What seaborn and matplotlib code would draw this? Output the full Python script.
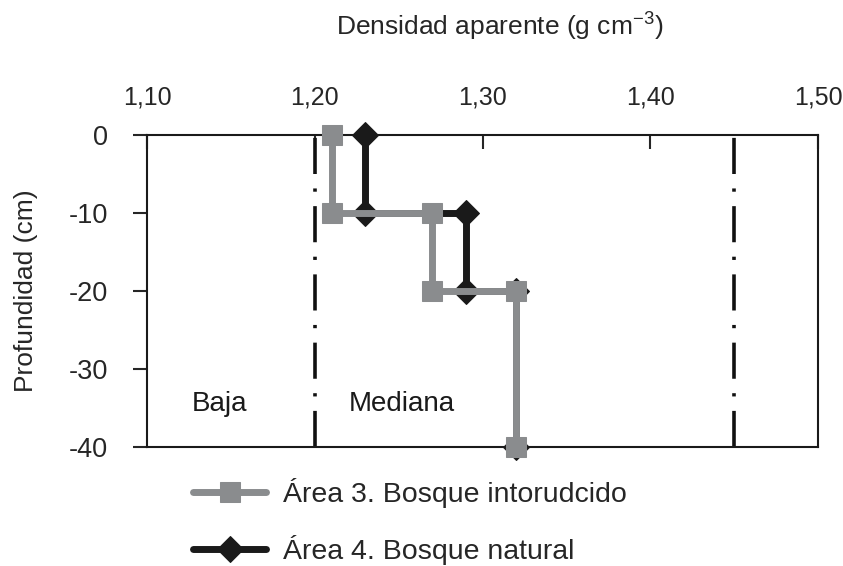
import pandas as pd
import numpy as np
import matplotlib
matplotlib.use('Agg')
import matplotlib.pyplot as plt
import seaborn as sns

# Layer boundaries (cm) and bulk density per layer (g cm-3)
layer_top = [0, -10, -20]
layer_bottom = [-10, -20, -40]
dens_area3 = [1.21, 1.27, 1.32]
dens_area4 = [1.23, 1.29, 1.32]
label_area3 = 'Área 3. Bosque intorudcido'
label_area4 = 'Área 4. Bosque natural'

# class limits (dash-dot lines) and class labels
class_limits = [1.20, 1.45]
class_names = ['Baja', 'Mediana']
class_label_x = [1.143, 1.252]
class_label_y = -34.5

x_ticks = [1.10, 1.20, 1.30, 1.40, 1.50]
y_ticks = [0, -10, -20, -30, -40]


def step_profile(dens, tops, bottoms):
    xs, ys = [], []
    for d, t, b in zip(dens, tops, bottoms):
        xs += [d, d]
        ys += [t, b]
    return pd.DataFrame({'dens': xs, 'depth': ys})


df3 = step_profile(dens_area3, layer_top, layer_bottom)
df4 = step_profile(dens_area4, layer_top, layer_bottom)

sns.set_style('ticks')
plt.rcParams['font.family'] = ['Liberation Sans', 'DejaVu Sans']
plt.rcParams['axes.unicode_minus'] = False
plt.rcParams['mathtext.fontset'] = 'custom'
plt.rcParams['mathtext.rm'] = 'Liberation Sans'
plt.rcParams['mathtext.default'] = 'regular'

fig = plt.figure(figsize=(8.43, 5.66), dpi=100)
ax = fig.add_axes([0.1744, 0.21, 0.796, 0.552])

for xl in class_limits:
    ax.axvline(xl, color='#111111', lw=2.6, linestyle=(0, (10, 4, 0.9, 4)), zorder=1)

sns.lineplot(data=df4, x='dens', y='depth', sort=False, estimator=None, color='#1a1a1a', lw=5,
             marker='D', markersize=13, markeredgecolor='#1a1a1a', label=label_area4, ax=ax,
             zorder=3, clip_on=False)
sns.lineplot(data=df3, x='dens', y='depth', sort=False, estimator=None, color='#8a8c8e', lw=5,
             marker='s', markersize=14, markeredgecolor='#8a8c8e', label=label_area3, ax=ax,
             zorder=4, clip_on=False)

for name, lx in zip(class_names, class_label_x):
    ax.text(lx, class_label_y, name, fontsize=20, ha='center', va='center', color='#1a1a1a')

ax.set_xlim(1.10, 1.50)
ax.set_ylim(-40, 0)
ax.set_xticks(x_ticks)
ax.set_xticklabels([('%.2f' % v).replace('.', ',') for v in x_ticks])
ax.set_yticks(y_ticks)
ax.xaxis.tick_top()
ax.xaxis.set_label_position('top')
ax.tick_params(axis='x', direction='in', length=10, width=1.5, labelsize=18, pad=18)
ax.tick_params(axis='y', direction='out', length=10, width=1.5, labelsize=19.5, pad=18)
for s in ax.spines.values():
    s.set_visible(True)
    s.set_linewidth(1.5)
    s.set_color('#1a1a1a')

ax.set_xlabel('Densidad aparente (g cm$^{-3}$)', fontsize=19, labelpad=36)
ax.xaxis.label.set_x(0.526)
ax.set_ylabel('Profundidad (cm)', fontsize=19, labelpad=22)

handles, labels = ax.get_legend_handles_labels()
order = [labels.index(label_area3), labels.index(label_area4)]
leg = ax.legend([handles[i] for i in order], [labels[i] for i in order],
                loc='upper left', bbox_to_anchor=(0.216, 0.175), bbox_transform=fig.transFigure,
                frameon=False, fontsize=20.5, handlelength=2.55, handletextpad=0.6, labelspacing=0.95,
                borderaxespad=0)

fig.savefig('out.png', dpi=100)
